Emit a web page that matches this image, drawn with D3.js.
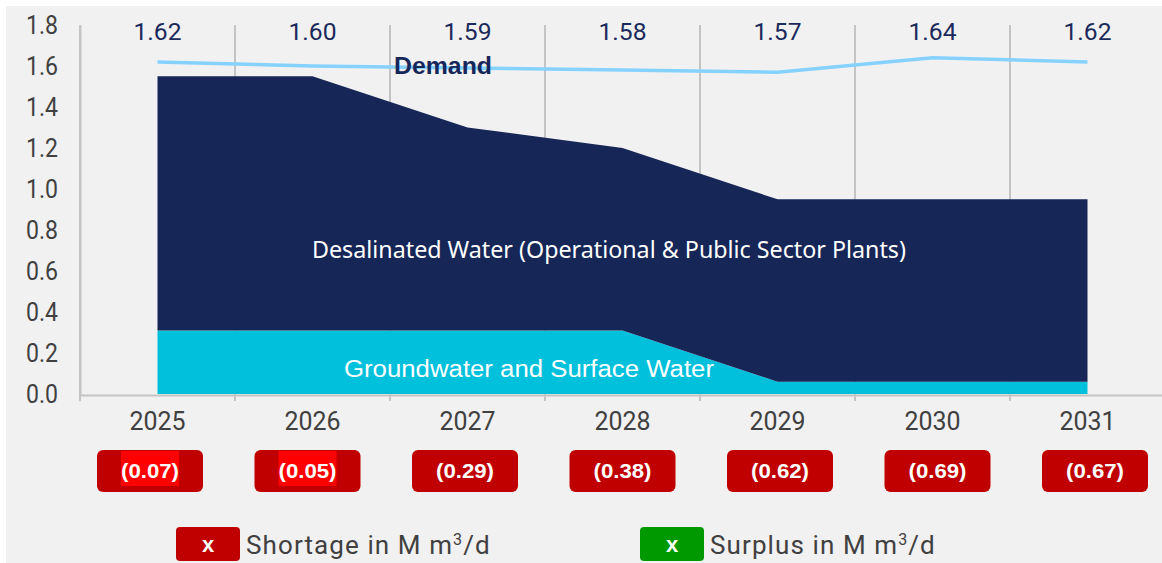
<!DOCTYPE html>
<html><head><meta charset="utf-8">
<script src="https://cdn.jsdelivr.net/npm/d3@7"></script>
<style>body{margin:0;background:#fff}svg{display:block}</style>
</head><body>
<script>
const years = ["2025","2026","2027","2028","2029","2030","2031"];
const demand = [1.62,1.60,1.59,1.58,1.57,1.64,1.62];
const groundwater = [0.31,0.31,0.31,0.31,0.06,0.06,0.06];
const desalinated = [1.24,1.24,0.99,0.89,0.89,0.89,0.89];
const shortage = ["(0.07)","(0.05)","(0.29)","(0.38)","(0.62)","(0.69)","(0.67)"];
const highlighted = [true,true,false,false,false,false,false];
const yTicks = [0,0.2,0.4,0.6,0.8,1.0,1.2,1.4,1.6,1.8];

const W=1162,H=563;
const svg=d3.select("body").append("svg").attr("width",W).attr("height",H);
svg.append("rect").attr("x",6).attr("y",6).attr("width",W-6).attr("height",H-6).attr("fill","#f1f1f1");

const x=d3.scaleBand().domain(years).range([80,1165]).paddingInner(0).paddingOuter(0);
const y=d3.scaleLinear().domain([0,1.8]).range([394,25]);
const cx=d=>x(d)+x.bandwidth()/2;
const xBox=d3.scalePoint().domain(years).range([150,1095]);

// gridlines
svg.append("g").selectAll("line").data(years).join("line")
 .attr("x1",d=>x(d)).attr("x2",d=>x(d)).attr("y1",25).attr("y2",395)
 .attr("stroke","#c4c4c4").attr("stroke-width",2);

// stacked areas
const rows=years.map((yr,i)=>({year:yr,g:groundwater[i],d:desalinated[i]}));
const stack=d3.stack().keys(["g","d"])(rows);
const colors={g:"#00c0dc",d:"#162657"};
const area=d3.area().x(d=>cx(d.data.year)).y0(d=>y(d[0])).y1(d=>y(d[1]));
svg.append("g").selectAll("path").data(stack).join("path")
 .attr("d",area).attr("fill",d=>colors[d.key]);

// axes
const xAxis=svg.append("g").attr("transform","translate(0,395)")
 .call(d3.axisBottom(x).tickSize(0).tickPadding(17));
xAxis.select(".domain").attr("stroke","#c4c4c4").attr("stroke-width",2);
xAxis.selectAll("text").attr("font-family","Roboto").attr("font-size",25).attr("fill","#404040")
 .attr("textLength",56).attr("lengthAdjust","spacingAndGlyphs");
svg.append("g").selectAll("line").data(years).join("line")
 .attr("x1",d=>x(d)).attr("x2",d=>x(d)).attr("y1",395).attr("y2",401)
 .attr("stroke","#c4c4c4").attr("stroke-width",2);

const yAxis=svg.append("g").attr("transform","translate(80,0)")
 .call(d3.axisLeft(y).tickValues(yTicks).tickFormat(d3.format(".1f")).tickSize(0).tickPadding(22));
yAxis.select(".domain").attr("stroke","#c4c4c4").attr("stroke-width",2);
yAxis.selectAll("text").attr("font-family","Roboto").attr("font-size",25).attr("fill","#404040")
 .attr("textLength",32).attr("lengthAdjust","spacingAndGlyphs");

// demand line
svg.append("path").datum(demand)
 .attr("d",d3.line().x((d,i)=>cx(years[i])).y(d=>y(d)))
 .attr("fill","none").attr("stroke","#85d2ff").attr("stroke-width",3.5);

// demand labels
svg.append("g").selectAll("text").data(demand).join("text")
 .attr("x",(d,i)=>cx(years[i])).attr("y",40).attr("text-anchor","middle")
 .attr("font-family","Roboto").attr("font-size",24).attr("fill","#1b2a5a")
 .attr("textLength",48).attr("lengthAdjust","spacingAndGlyphs")
 .text(d=>d.toFixed(2));

svg.append("text").attr("x",443).attr("y",74).attr("text-anchor","middle")
 .attr("font-family","Liberation Sans").attr("font-weight","bold").attr("font-size",23)
 .attr("textLength",98).attr("lengthAdjust","spacingAndGlyphs")
 .attr("fill","#16265a").text("Demand");

svg.append("text").attr("x",609).attr("y",258).attr("text-anchor","middle")
 .attr("font-family","Noto Sans").attr("font-size",23).attr("fill","#fff")
 .attr("textLength",594).attr("lengthAdjust","spacingAndGlyphs")
 .text("Desalinated Water (Operational & Public Sector Plants)");
svg.append("text").attr("x",529).attr("y",377).attr("text-anchor","middle")
 .attr("font-family","Liberation Sans").attr("font-size",23).attr("fill","#fff")
 .attr("textLength",370).attr("lengthAdjust","spacingAndGlyphs")
 .text("Groundwater and Surface Water");

// shortage boxes
const sg=svg.append("g").selectAll("g").data(shortage).join("g")
 .attr("transform",(d,i)=>`translate(${xBox(years[i])},471)`);
sg.append("rect").attr("x",-53).attr("y",-21).attr("width",106).attr("height",42).attr("rx",6)
 .attr("fill","#c00000");
sg.filter((d,i)=>highlighted[i]).append("rect").attr("x",-29).attr("y",-20).attr("width",58).attr("height",35)
 .attr("fill","#ff0000");
sg.append("text").attr("text-anchor","middle").attr("y",7)
 .attr("font-family","Liberation Sans").attr("font-weight","bold").attr("font-size",21).attr("fill","#fff")
 .attr("textLength",58).attr("lengthAdjust","spacingAndGlyphs")
 .text(d=>d);

// legend
const legend=[{label:"Shortage in M m",color:"#c00000",x:176},{label:"Surplus in M m",color:"#009a00",x:640}];
const lg=svg.append("g").selectAll("g").data(legend).join("g").attr("transform",d=>`translate(${d.x},527)`);
lg.append("rect").attr("width",64).attr("height",34).attr("rx",4).attr("fill",d=>d.color);
lg.append("text").attr("x",32).attr("y",25).attr("text-anchor","middle")
 .attr("font-family","Liberation Sans").attr("font-weight","bold").attr("font-size",22).attr("fill","#fff").text("x");
const lt=lg.append("text").attr("x",70).attr("y",27)
 .attr("font-family","Roboto").attr("font-size",26).attr("fill","#404040")
 .attr("letter-spacing",1.1);
lt.append("tspan").text(d=>d.label);
lt.append("tspan").attr("font-size",16).attr("dy",-9).text("3");
lt.append("tspan").attr("dy",9).text("/d");
</script>
</body></html>
